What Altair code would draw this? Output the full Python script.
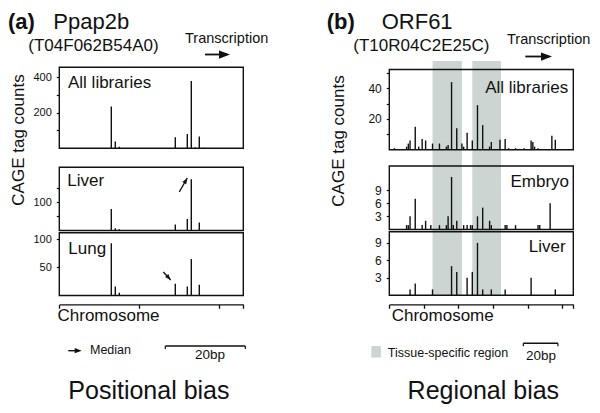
import altair as alt
import pandas as pd

FONT = "Liberation Sans"
INK = "#111111"
BAND = "#ccd5d2"
HEAD = "M0,0L-2,-0.75L-2,0.75Z"   # arrow head, tip at the origin, pointing right

# ---------------- data ----------------
# (a) Ppap2b  (positions in bp along the 46 bp window)
a_pos_all = [13, 14, 15, 29, 32, 33, 34, 35, 36]
a_cnt_all = [235, 38, 9, 62, 81, 378, 5, 66, 3]
a_pos_liver = [13, 14, 15, 29, 32, 33, 35]
a_cnt_liver = [76, 8, 4, 21, 41, 182, 28]
a_pos_lung = [13, 14, 15, 29, 32, 33, 35]
a_cnt_lung = [93, 16, 5, 21, 16, 65, 19]
# median arrows: tail x, tail y, tip x, tip y
a_liver_median = [30, 137, 32, 186]
a_lung_median = [26, 42, 27.85, 27.6]

# (b) ORF61  (positions in bp along the 106 bp window)
b_pos_all = [3, 10, 11, 12, 15, 17, 19, 21, 25, 29, 33, 34, 36, 39, 42, 43, 45, 48,
             51, 54, 58, 59, 64, 67, 69, 73, 78, 82, 83, 84, 86, 94, 96]
b_cnt_all = [1, 2, 4, 6, 15, 2, 7, 6, 4, 4, 2, 3, 44, 14, 4, 2, 11, 6,
             29, 16, 2, 5, 6.5, 7, 1, 1, 1, 6, 5, 2, 1, 9, 6.5]
b_pos_embryo = [10, 11, 12, 15, 19, 21, 24, 29, 33, 34, 36, 37, 39, 43, 45, 47, 48,
                51, 54, 58, 59, 67, 68, 73, 86, 87, 93]
b_cnt_embryo = [1, 1, 3, 7, 1, 2, 1, 1, 1, 3, 12, 1, 2, 1, 1, 1, 1,
                3, 5, 2, 1, 1, 1, 1, 1, 1, 6]
b_pos_liver = [12, 15, 25, 36, 39, 45, 48, 51, 54, 59, 67, 82, 96]
b_cnt_liver = [1, 2, 1, 5, 4, 3, 4, 9, 1, 1, 1, 3, 1]
b_region_start = [25, 48]
b_region_end = [42, 64.6]

a_window = 46
b_window = 106.4
a_ymax = [455, 224, 112]
b_ymax = [52.2, 14.5, 10.9]
a_yticks = [[100, 200, 300, 400], [50, 100, 150], [50, 100]]
a_ylabels = [[200, 400], [100], [50, 100]]
b_yticks = [[10, 20, 30, 40, 50], [3, 6, 9], [3, 6, 9]]
b_ylabels = [[20, 40], [3, 6, 9], [3, 6, 9]]
a_xticks = [0, 20, 40, 46]
b_xticks = [0, 20, 40, 60, 80, 100, 106.4]
scale_bar_bp = 20

# ---------------- layout (plot pixels) ----------------
W, H = 584, 397
A_X = [51.3, 235.3]
B_X = [381.3, 565.3]
A_Y = [[140.3, 59.3], [222.5, 159.3], [287.5, 224.7]]
B_Y = [[141.7, 61.5], [221.5, 158.0], [287.2, 223.8]]
CHROM_Y = 296.3

ONE = pd.DataFrame({"k": [0]})


def xscale(win, rng):
    return alt.Scale(domain=[0, win], range=list(rng), nice=False)


def yaxis(left, ticks, labels, size):
    lab = ",".join(str(v) for v in labels)
    return alt.Axis(orient="left", offset=-left, values=ticks,
                    labelExpr=f"indexof([{lab}], datum.value) >= 0 ? datum.label : ''",
                    domain=False, grid=False, tickSize=3, tickWidth=1.2, tickColor=INK,
                    labelPadding=5, labelFont=FONT, labelFontSize=size, labelColor=INK,
                    labelOverlap=False, labelFlush=False, title=None)


def chrom_axis(ticks):
    return alt.Axis(orient="bottom", offset=CHROM_Y - H, values=ticks, labels=False,
                    grid=False, domainColor=INK, domainWidth=1.3, tickColor=INK,
                    tickWidth=1.3, tickSize=4, title=None)


def panel(pos, cnt, win, xrng, ymax, yrng, yax, xax=None, arrow=None, angle=0):
    xs = xscale(win, xrng)
    ys = alt.Scale(domain=[0, ymax], range=list(yrng), nice=False)

    def X(f):
        return alt.X(f, type="quantitative", scale=xs, axis=xax)

    def Y(f):
        return alt.Y(f, type="quantitative", scale=ys, axis=yax)

    frame = alt.Chart(pd.DataFrame({"x0": [0], "x1": [win], "y0": [0], "y1": [ymax]})).mark_rect(
        fillOpacity=0, stroke=INK, strokeWidth=1.4).encode(x=X("x0"), x2="x1", y=Y("y0"), y2="y1")
    bars = alt.Chart(pd.DataFrame({"pos": pos, "count": cnt})).mark_rule(
        color=INK, strokeWidth=1.4).encode(x=X("pos"), y=Y("count"), y2=alt.datum(0))
    layers = [frame, bars]
    if arrow is not None:
        adf = pd.DataFrame({"tx": [arrow[0]], "ty": [arrow[1]], "hx": [arrow[2]], "hy": [arrow[3]]})
        layers.append(alt.Chart(adf).mark_rule(color=INK, strokeWidth=1.3).encode(
            x=X("tx"), y=Y("ty"), x2="hx", y2="hy"))
        layers.append(alt.Chart(adf).mark_point(shape=HEAD, filled=True, size=36, color=INK,
                                                opacity=1, angle=angle).encode(x=X("hx"), y=Y("hy")))
    return alt.layer(*layers)


def scale_bar(start, win, xrng, y):
    xs = xscale(win, xrng)
    line = alt.Chart(pd.DataFrame({"s": [start], "e": [start + scale_bar_bp]})).mark_rule(
        color=INK, strokeWidth=1.5).encode(
        x=alt.X("s:Q", scale=xs, axis=None), x2="e", y=alt.value(y))
    ends = alt.Chart(pd.DataFrame({"p": [start, start + scale_bar_bp]})).mark_rule(
        color=INK, strokeWidth=1.2).encode(
        x=alt.X("p:Q", scale=xs, axis=None), y=alt.value(y), y2=alt.value(y + 3))
    return alt.layer(line, ends)


def txt(s, x, y, size, align="left", weight="normal", angle=0, baseline="alphabetic"):
    return alt.Chart(ONE).mark_text(text=s, font=FONT, fontSize=size, fontWeight=weight,
                                    align=align, baseline=baseline, angle=angle,
                                    color=INK).encode(x=alt.value(x), y=alt.value(y))


def px_arrow(x1, x2, y, size, width=1.6):
    shaft = alt.Chart(ONE).mark_rule(color=INK, strokeWidth=width).encode(
        x=alt.value(x1), x2=alt.value(x2 - 3), y=alt.value(y))
    head = alt.Chart(ONE).mark_point(shape=HEAD, filled=True, size=size, color=INK,
                                     opacity=1).encode(x=alt.value(x2), y=alt.value(y))
    return alt.layer(shaft, head)


# grey tissue-specific regions
bands = alt.Chart(pd.DataFrame({"s": b_region_start, "e": b_region_end})).mark_rect(
    color=BAND).encode(x=alt.X("s:Q", scale=xscale(b_window, B_X), axis=None), x2="e",
                       y=alt.value(53), y2=alt.value(288))

a_panels = [
    panel(a_pos_all, a_cnt_all, a_window, A_X, a_ymax[0], A_Y[0],
          yaxis(A_X[0], a_yticks[0], a_ylabels[0], 11)),
    panel(a_pos_liver, a_cnt_liver, a_window, A_X, a_ymax[1], A_Y[1],
          yaxis(A_X[0], a_yticks[1], a_ylabels[1], 11), arrow=a_liver_median, angle=300),
    panel(a_pos_lung, a_cnt_lung, a_window, A_X, a_ymax[2], A_Y[2],
          yaxis(A_X[0], a_yticks[2], a_ylabels[2], 11), xax=chrom_axis(a_xticks),
          arrow=a_lung_median, angle=48),
]
b_panels = [
    panel(b_pos_all, b_cnt_all, b_window, B_X, b_ymax[0], B_Y[0],
          yaxis(B_X[0], b_yticks[0], b_ylabels[0], 12)),
    panel(b_pos_embryo, b_cnt_embryo, b_window, B_X, b_ymax[1], B_Y[1],
          yaxis(B_X[0], b_yticks[1], b_ylabels[1], 12)),
    panel(b_pos_liver, b_cnt_liver, b_window, B_X, b_ymax[2], B_Y[2],
          yaxis(B_X[0], b_yticks[2], b_ylabels[2], 12), xax=chrom_axis(b_xticks)),
]

texts = [
    txt("(a)", 0, 21, 22, weight="bold"),
    txt("Ppap2b", 45.3, 21, 22),
    txt("(T04F062B54A0)", 20.3, 42.5, 17),
    txt("Transcription", 177, 34.8, 14.5),
    txt("(b)", 318.7, 21, 22, weight="bold"),
    txt("ORF61", 373.7, 21, 22),
    txt("(T10R04C2E25C)", 345.3, 43, 17),
    txt("Transcription", 499, 35.5, 14.5),
    txt("CAGE tag counts", 11, 132, 17, align="center", angle=270, baseline="middle"),
    txt("CAGE tag counts", 331, 133, 17, align="center", angle=270, baseline="middle"),
    txt("All libraries", 60, 80.3, 17),
    txt("Liver", 59.3, 178, 17),
    txt("Lung", 60.3, 246.3, 17),
    txt("All libraries", 560.3, 84.5, 17, align="right"),
    txt("Embryo", 561, 178.7, 17, align="right"),
    txt("Liver", 557.7, 243.7, 17, align="right"),
    txt("Chromosome", 49.5, 313, 17),
    txt("Chromosome", 383.7, 313, 17),
    txt("Median", 82, 346.3, 12.5),
    txt("20bp", 187, 351, 13.5),
    txt("Tissue-specific region", 379.8, 349.3, 12.5),
    txt("20bp", 517.9, 351.7, 13.5),
    txt("Positional bias", 60.3, 390.5, 25),
    txt("Regional bias", 399.6, 390.5, 25),
]

legend_square = alt.Chart(ONE).mark_rect(color=BAND).encode(
    x=alt.value(363.4), x2=alt.value(372.9), y=alt.value(338), y2=alt.value(349.5))

arrows = [
    px_arrow(197, 222, 46.5, 121, 1.8),
    px_arrow(517.3, 544, 48.5, 121, 1.8),
    px_arrow(60.3, 73.7, 342.7, 49, 1.4),
]

chart = alt.layer(
    bands, *a_panels, *b_panels,
    scale_bar(26.5, a_window, A_X, 338),
    scale_bar(77.5, b_window, B_X, 335.3),
    legend_square, *arrows, *texts,
).resolve_scale(x="independent", y="independent").properties(
    width=W, height=H, autosize=alt.AutoSizeParams(type="none"), padding=0,
).configure_view(stroke="transparent")

chart.save("out.html", embed_options={"renderer": "svg", "actions": False})
